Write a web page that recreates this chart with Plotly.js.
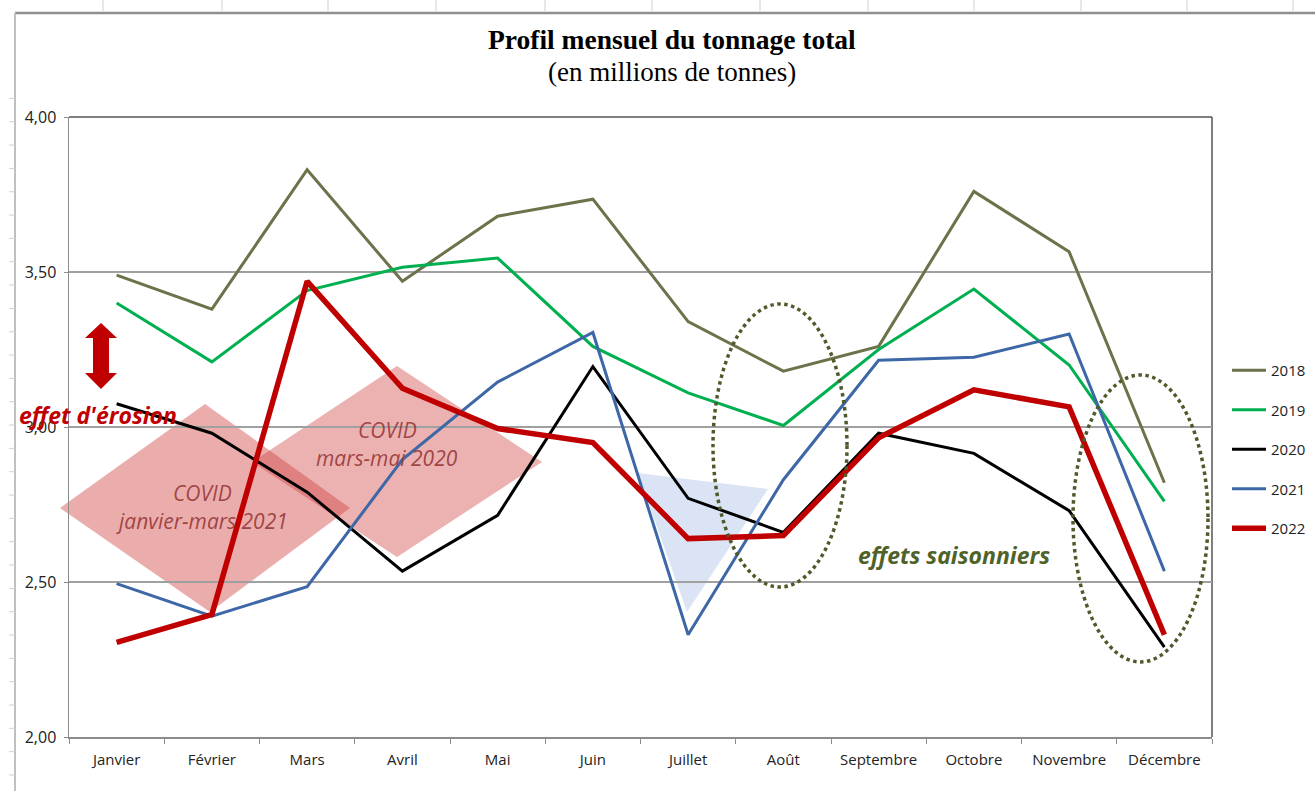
<!DOCTYPE html>
<html>
<head>
<meta charset="utf-8">
<script src="https://cdn.plot.ly/plotly-3.0.1.min.js"></script>
<style>
html,body{margin:0;padding:0;background:#fff;}
#chart{width:1315px;height:791px;}
</style>
</head>
<body>
<div id="chart"></div>
<script>
// ---- Data ----
const months = ["Janvier","Février","Mars","Avril","Mai","Juin","Juillet","Août","Septembre","Octobre","Novembre","Décembre"];
const y2018 = [3.49, 3.38, 3.83, 3.47, 3.68, 3.735, 3.34, 3.18, 3.26, 3.76, 3.565, 2.82];
const y2019 = [3.40, 3.21, 3.44, 3.515, 3.545, 3.26, 3.11, 3.005, 3.25, 3.445, 3.20, 2.76];
const y2020 = [3.075, 2.98, 2.79, 2.535, 2.715, 3.195, 2.77, 2.66, 2.98, 2.915, 2.73, 2.29];
const y2021 = [2.495, 2.39, 2.485, 2.895, 3.145, 3.305, 2.33, 2.83, 3.215, 3.225, 3.30, 2.535];
const y2022 = [2.305, 2.395, 3.47, 3.125, 2.995, 2.95, 2.64, 2.65, 2.965, 3.12, 3.065, 2.33];
const seriesNames = ["2018","2019","2020","2021","2022"];

// ---- Layout geometry ----
const W = 1315, H = 791;
const M = {l: 69, r: 103, t: 117, b: 54, autoexpand: false};
const PW = W - M.l - M.r, PH = H - M.t - M.b;
const px = v => (v - M.l) / PW;
const py = v => (H - M.b - v) / PH;

const fontSans = "Open Sans, Noto Sans, sans-serif";
const serif = "Liberation Serif, Times New Roman, serif";

function mk(name, y, color, width, g) {
  return {
    type: "scatter", mode: "lines", name: name, x: months, y: y,
    line: {color: color, width: width}, legendgroup: g, hoverinfo: "x+y+name"
  };
}
const data = [
  mk(seriesNames[0], y2018, "#6c7249", 3, "a"),
  mk(seriesNames[1], y2019, "#00b050", 3, "b"),
  mk(seriesNames[2], y2020, "#000000", 3, "c"),
  mk(seriesNames[3], y2021, "#3d67a6", 3, "d"),
  mk(seriesNames[4], y2022, "#c00000", 5.5, "e")
];

function poly(pts) {
  return "M" + pts.map(p => px(p[0]).toFixed(5) + "," + py(p[1]).toFixed(5)).join(" L") + " Z";
}

const shapes = [];
// Excel sheet frame (outside chart)
shapes.push({type:"line", xref:"paper", yref:"paper", x0:px(15), x1:px(1315), y0:py(13), y1:py(13), line:{color:"#8f8f8f", width:2.5}, layer:"below"});
shapes.push({type:"line", xref:"paper", yref:"paper", x0:px(15), x1:px(15), y0:py(13), y1:py(791), line:{color:"#c0c0c0", width:2}, layer:"below"});
[103,222,328,436,545,652,760,868,974,1081,1187,1293].forEach(xx => {
  shapes.push({type:"line", xref:"paper", yref:"paper", x0:px(xx), x1:px(xx), y0:py(0), y1:py(11), line:{color:"#d0d0d0", width:1}, layer:"below"});
});
for (let k = 0; k < 30; k++) {
  const yy = 775 - k * 23.33;
  if (yy < 18) break;
  shapes.push({type:"line", xref:"paper", yref:"paper", x0:px(9), x1:px(15), y0:py(yy), y1:py(yy), line:{color:"#d0d0d0", width:1}, layer:"below"});
}

// Pink COVID diamonds
shapes.push({type:"path", xref:"paper", yref:"paper", path: poly([[60,508],[205,404],[350,508],[210,612]]),
  fillcolor:"rgba(210,70,70,0.45)", line:{width:0}, layer:"below"});
shapes.push({type:"path", xref:"paper", yref:"paper", path: poly([[252,462],[397,366],[542,462],[397,557]]),
  fillcolor:"rgba(210,70,70,0.42)", line:{width:0}, layer:"below"});
// Light blue triangle
shapes.push({type:"path", xref:"paper", yref:"paper", path: poly([[638,473],[768,489],[687,612]]),
  fillcolor:"rgba(175,196,230,0.45)", line:{width:0}, layer:"below"});
// Dotted ellipses
shapes.push({type:"circle", xref:"paper", yref:"paper", x0:px(713), x1:px(847), y0:py(587), y1:py(304),
  line:{color:"#4f5a2a", width:3.5, dash:"dot"}, fillcolor:"rgba(0,0,0,0)", layer:"above"});
shapes.push({type:"circle", xref:"paper", yref:"paper", x0:px(1073), x1:px(1208), y0:py(662), y1:py(375),
  line:{color:"#4f5a2a", width:3.5, dash:"dot"}, fillcolor:"rgba(0,0,0,0)", layer:"above"});
// Red double arrow
shapes.push({type:"path", xref:"paper", yref:"paper",
  path: poly([[101,323],[117,338],[109,338],[109,373],[117,373],[101,389],[85,373],[93,373],[93,338],[85,338]]),
  fillcolor:"#c00000", line:{width:0}, layer:"above"});

const covidColor = "rgba(150,55,55,0.9)";
const annotations = [
  {text:"<b>Profil mensuel du tonnage total</b>", xref:"paper", yref:"paper", x:px(672), y:py(40),
   showarrow:false, font:{family:serif, size:27.5, color:"#000"}, xanchor:"center", yanchor:"middle"},
  {text:"(en millions de tonnes)", xref:"paper", yref:"paper", x:px(672), y:py(72),
   showarrow:false, font:{family:serif, size:27, color:"#000"}, xanchor:"center", yanchor:"middle"},
  {text:"<b><i>effet d'érosion</i></b>", xref:"paper", yref:"paper", x:px(98), y:py(415),
   showarrow:false, font:{family:fontSans, size:23, color:"#c00000"}, xanchor:"center", yanchor:"middle"},
  {text:"<i>COVID</i>", xref:"paper", yref:"paper", x:px(202), y:py(493),
   showarrow:false, font:{family:fontSans, size:21, color:covidColor}, xanchor:"center", yanchor:"middle"},
  {text:"<i>janvier-mars 2021</i>", xref:"paper", yref:"paper", x:px(202), y:py(521),
   showarrow:false, font:{family:fontSans, size:21, color:covidColor}, xanchor:"center", yanchor:"middle"},
  {text:"<i>COVID</i>", xref:"paper", yref:"paper", x:px(387), y:py(430),
   showarrow:false, font:{family:fontSans, size:21, color:covidColor}, xanchor:"center", yanchor:"middle"},
  {text:"<i>mars-mai 2020</i>", xref:"paper", yref:"paper", x:px(387), y:py(458),
   showarrow:false, font:{family:fontSans, size:21, color:covidColor}, xanchor:"center", yanchor:"middle"},
  {text:"<b><i>effets saisonniers</i></b>", xref:"paper", yref:"paper", x:px(954), y:py(555),
   showarrow:false, font:{family:fontSans, size:23, color:"#4f6228"}, xanchor:"center", yanchor:"middle"}
];

const layout = {
  width: W, height: H,
  margin: M,
  paper_bgcolor: "#ffffff", plot_bgcolor: "#ffffff",
  separators: ", ",
  showlegend: true,
  legend: {
    x: px(1227), y: py(354), xanchor: "left", yanchor: "top",
    traceorder: "grouped", tracegroupgap: 17,
    font: {family: fontSans, size: 15, color: "#222"},
    bgcolor: "rgba(0,0,0,0)", itemwidth: 34
  },
  xaxis: {
    type: "category", range: [-0.5, 11.5], showgrid: false,
    showline: true, linecolor: "#8c8c8c", linewidth: 1.5, mirror: false,
    ticks: "outside", tickson: "boundaries", ticklen: 5, tickcolor: "#8c8c8c",
    ticklabelstandoff: 8,
    tickfont: {family: fontSans, size: 15, color: "#222"},
    fixedrange: true
  },
  yaxis: {
    range: [2, 4], dtick: 0.5, tick0: 2, tickformat: ".2f",
    showgrid: true, gridcolor: "#a0a0a0", gridwidth: 1.5,
    showline: true, linecolor: "#8c8c8c", linewidth: 1.5, mirror: false,
    ticks: "outside", ticklen: 4, tickcolor: "#8c8c8c",
    ticklabelstandoff: 4,
    tickfont: {family: fontSans, size: 16, color: "#222"},
    zeroline: false, fixedrange: true
  },
  shapes: shapes.concat([
    {type:"line", xref:"paper", yref:"paper", x0:0, x1:1, y0:1, y1:1, line:{color:"#555", width:1.5}, layer:"below"},
    {type:"line", xref:"paper", yref:"paper", x0:1, x1:1, y0:0, y1:1, line:{color:"#555", width:1.5}, layer:"below"}
  ]),
  annotations: annotations
};

Plotly.newPlot("chart", data, layout, {staticPlot: true, displayModeBar: false});
</script>
</body>
</html>
